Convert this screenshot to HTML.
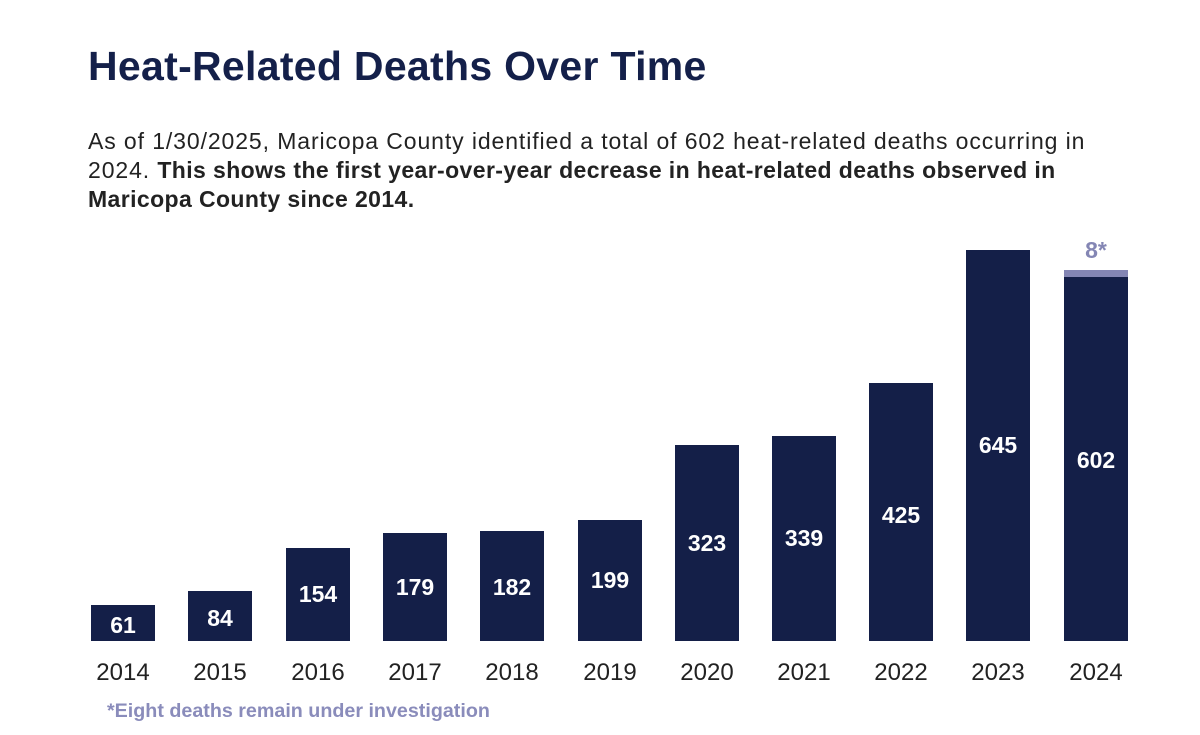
<!DOCTYPE html>
<html><head><style>
body{margin:0;width:1200px;height:735px;background:#fff;position:relative;font-family:"Liberation Sans",sans-serif;overflow:hidden}
.t{position:absolute;left:88px;top:43px;font-size:41px;font-weight:bold;color:#14204a;letter-spacing:0.3px;white-space:nowrap}
.p{position:absolute;left:88px;top:127px;width:1100px;font-size:23px;line-height:29px;color:#222;letter-spacing:0.9px;white-space:nowrap}
.p b{letter-spacing:0.4px}
.b{position:absolute;background:#141f48;color:#fff;font-weight:bold;font-size:23px;text-align:center;width:64px}
.y{position:absolute;top:659px;font-size:24px;color:#222;width:80px;text-align:center}
</style></head><body>
<div class="t">Heat-Related Deaths Over Time</div>
<div class="p">As of 1/30/2025, Maricopa County identified a total of 602 heat-related deaths occurring in<br>2024. <b>This shows the first year-over-year decrease in heat-related deaths observed in<br>Maricopa County since 2014.</b></div>
<div class="b" style="left:91px;top:605px;height:36px;line-height:40px">61</div>
<div class="b" style="left:188px;top:591px;height:50px;line-height:54px">84</div>
<div class="b" style="left:286px;top:548px;height:93px;line-height:93px">154</div>
<div class="b" style="left:383px;top:533px;height:108px;line-height:108px">179</div>
<div class="b" style="left:480px;top:531px;height:110px;line-height:112px">182</div>
<div class="b" style="left:578px;top:520px;height:121px;line-height:121px">199</div>
<div class="b" style="left:675px;top:445px;height:196px;line-height:196px">323</div>
<div class="b" style="left:772px;top:436px;height:205px;line-height:205px">339</div>
<div class="b" style="left:869px;top:383px;height:258px;line-height:264px">425</div>
<div class="b" style="left:966px;top:250px;height:391px;line-height:391px">645</div>
<div class="b" style="left:1064px;top:277px;height:364px;line-height:366px">602</div>
<div style="position:absolute;left:1064px;top:270px;width:64px;height:7px;background:#8486b4"></div>
<div style="position:absolute;left:1064px;top:237px;width:64px;text-align:center;font-weight:bold;font-size:23px;color:#8486b4">8*</div>
<div class="y" style="left:83px">2014</div>
<div class="y" style="left:180px">2015</div>
<div class="y" style="left:278px">2016</div>
<div class="y" style="left:375px">2017</div>
<div class="y" style="left:472px">2018</div>
<div class="y" style="left:570px">2019</div>
<div class="y" style="left:667px">2020</div>
<div class="y" style="left:764px">2021</div>
<div class="y" style="left:861px">2022</div>
<div class="y" style="left:958px">2023</div>
<div class="y" style="left:1056px">2024</div>
<div style="position:absolute;left:107px;top:700px;font-size:19.7px;font-weight:bold;color:#8a8cbb">*Eight deaths remain under investigation</div>
</body></html>
